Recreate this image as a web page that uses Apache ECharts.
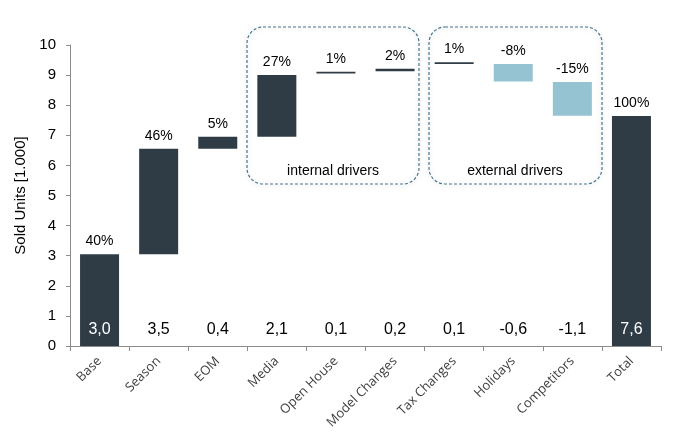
<!DOCTYPE html>
<html>
<head>
<meta charset="utf-8">
<script src="https://cdn.jsdelivr.net/npm/echarts@6/dist/echarts.min.js"></script>
<style>html,body{margin:0;padding:0;background:#fff;}#c{width:678px;height:448px;}</style>
</head>
<body>
<div id="c"></div>
<script>
var categories = ['Base','Season','EOM','Media','Open House','Model Changes','Tax Changes','Holidays','Competitors','Total'];
var starts = [0, 3.05, 6.55, 6.95, 9.05, 9.13, 9.37, 9.37, 8.77, 0];
var deltas = [3.05, 3.5, 0.4, 2.05, 0.06, 0.08, 0.06, -0.58, -1.12, 7.64];
var pctLabels = ['40%','46%','5%','27%','1%','2%','1%','-8%','-15%','100%'];
var valueLabels = ['3,0','3,5','0,4','2,1','0,1','0,2','0,1','-0,6','-1,1','7,6'];
var yTicks = [0,1,2,3,4,5,6,7,8,9,10];

var DARK = '#2f3c46', LIGHT = '#96c3d2';
var chart = echarts.init(document.getElementById('c'));
var bottoms = starts.map(function(s,i){ return deltas[i] >= 0 ? s : s + deltas[i]; });
var heights = deltas.map(function(d,i){
  return { value: Math.abs(d), itemStyle: { color: d >= 0 ? DARK : LIGHT } };
});
var labelPts = categories.map(function(c,i){
  return { value: [i, 0.56], label: { color: bottoms[i] === 0 ? '#ffffff' : '#000000' } };
});
function boxShape(x, y, w, h){
  return {
    type: 'rect',
    shape: { x: x, y: y, width: w, height: h, r: 16 },
    style: { fill: 'rgba(0,0,0,0)', stroke: '#44768f', lineWidth: 1.2, lineDash: [3, 2],
             shadowBlur: 5, shadowColor: 'rgba(0,0,0,0.22)', shadowOffsetX: 0, shadowOffsetY: 1 },
    z: 10
  };
}
chart.setOption({
  animation: false,
  grid: { left: 70, right: 17, top: 45, bottom: 102 },
  xAxis: {
    type: 'category', data: categories, boundaryGap: true,
    axisLine: { lineStyle: { color: '#8c8c8c' } },
    axisTick: { show: true, length: 5, lineStyle: { color: '#8c8c8c' } },
    axisLabel: { rotate: 45, interval: 0, margin: 13, color: '#404040', fontFamily: 'Open Sans', fontSize: 13 }
  },
  yAxis: {
    type: 'value', min: yTicks[0], max: yTicks[yTicks.length-1], interval: 1,
    name: 'Sold Units [1.000]', nameLocation: 'middle', nameGap: 30, nameRotate: 90,
    nameTextStyle: { color: '#000', fontFamily: 'Liberation Sans', fontSize: 15 },
    axisLine: { show: true, lineStyle: { color: '#8c8c8c' } },
    axisTick: { show: true, length: 4, lineStyle: { color: '#8c8c8c' } },
    splitLine: { show: false },
    axisLabel: { color: '#000', fontFamily: 'Liberation Sans', fontSize: 15, margin: 14 }
  },
  series: [
    { type: 'bar', stack: 'wf', data: bottoms, barWidth: '66%', silent: true,
      itemStyle: { color: 'rgba(0,0,0,0)' } },
    { type: 'bar', stack: 'wf', data: heights, barWidth: '66%',
      label: { show: true, position: 'top', distance: 6, color: '#000', fontFamily: 'Liberation Sans', fontSize: 14,
               formatter: function(p){ return pctLabels[p.dataIndex]; } } },
    { type: 'scatter', data: labelPts, symbolSize: 0, z: 5, itemStyle: { opacity: 1 },
      label: { show: true, position: 'inside', fontFamily: 'Liberation Sans', fontSize: 16, opacity: 1,
               textBorderWidth: 0, textBorderColor: 'transparent',
               formatter: function(p){ return valueLabels[p.dataIndex]; } } }
  ],
  graphic: [
    boxShape(247, 27, 172, 157),
    boxShape(429, 27, 173, 157),
    { type: 'text', x: 333, y: 171, style: { text: 'internal drivers', fill: '#000', font: '14px "Liberation Sans"', textAlign: 'center', textVerticalAlign: 'middle' }, z: 11 },
    { type: 'text', x: 515, y: 171, style: { text: 'external drivers', fill: '#000', font: '14px "Liberation Sans"', textAlign: 'center', textVerticalAlign: 'middle' }, z: 11 }
  ]
});
</script>
</body>
</html>
